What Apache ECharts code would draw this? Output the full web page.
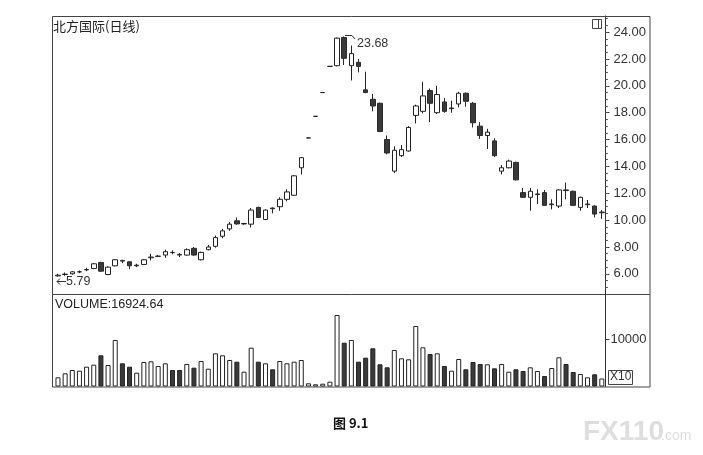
<!DOCTYPE html>
<html>
<head>
<meta charset="utf-8">
<script src="https://cdn.jsdelivr.net/npm/echarts@6/dist/echarts.min.js"></script>
<style>
html,body{margin:0;padding:0;background:#fff;}
#c{width:703px;height:455px;}
</style>
</head>
<body>
<div id="c"></div>
<script>
// ---- data ----
const opens  = [5.85,5.95,6.00,6.15,6.30,6.40,6.85,5.95,6.60,7.00,6.90,6.60,6.70,7.20,7.30,7.40,7.60,7.45,7.40,7.90,7.05,7.80,8.05,8.80,9.35,9.95,9.72,9.70,10.95,10.05,10.90,11.00,11.55,11.85,13.90,16.12,17.73,19.50,21.45,21.50,23.60,21.50,21.75,19.70,19.00,18.70,16.00,13.65,14.80,15.15,17.80,18.10,19.65,18.00,18.80,18.30,18.65,19.45,18.70,17.00,16.30,15.90,13.65,13.90,14.30,12.05,11.70,11.90,12.05,11.15,11.05,12.25,12.15,10.95,11.15,11.05,10.55];
const closes = [5.90,5.98,6.15,6.15,6.32,6.75,6.20,6.50,7.05,6.95,6.60,6.65,7.05,7.25,7.32,7.65,7.58,7.40,7.80,7.40,7.60,8.00,8.70,9.20,9.70,9.72,9.75,10.75,10.20,10.75,10.85,11.55,12.10,13.30,14.65,16.12,17.73,19.50,21.45,23.55,22.05,22.40,21.45,19.50,18.50,16.60,15.00,15.20,15.25,16.90,18.50,19.25,18.70,19.35,18.10,18.35,19.45,18.85,17.25,16.30,16.55,14.80,13.90,14.40,13.00,11.70,12.15,11.95,11.10,11.20,12.25,12.20,11.10,11.70,11.20,10.45,10.60];
const lows   = [5.79,5.85,5.95,6.05,6.20,6.35,6.15,5.90,6.55,6.80,6.35,6.50,6.65,7.00,7.25,7.20,7.45,7.25,7.35,7.35,7.00,7.75,7.95,8.65,9.20,9.65,9.65,9.45,10.15,10.00,10.50,10.70,11.40,11.80,13.40,16.12,17.73,19.50,21.45,21.45,21.55,20.40,21.00,19.45,18.10,16.55,14.90,13.50,14.70,15.10,17.20,17.95,17.30,17.90,18.00,18.00,18.40,18.45,16.90,16.05,15.30,14.70,13.40,13.85,12.95,11.65,10.70,11.20,11.05,10.80,10.90,11.55,11.05,10.70,10.90,10.20,10.10];
const highs  = [6.00,6.10,6.20,6.25,6.45,6.80,6.90,6.55,7.10,7.05,6.95,6.75,7.10,7.50,7.40,7.80,7.75,7.55,7.90,8.00,7.65,8.15,8.85,9.35,9.85,10.20,9.80,10.90,11.00,10.80,10.95,11.70,12.30,13.35,14.70,16.12,17.73,19.50,21.45,23.60,23.68,23.00,22.00,21.05,19.40,18.75,16.30,15.50,15.60,17.00,18.60,20.30,19.80,20.00,19.10,18.90,19.55,19.50,18.80,17.30,16.80,16.10,14.10,14.50,14.35,12.40,12.40,12.30,12.25,11.55,12.30,12.80,12.20,11.75,11.50,11.10,10.75];
const volumes = [1950,2797,3496,3348,4196,4619,6611,4556,9853,4916,4196,2924,5192,5340,4344,4916,3496,3496,4768,3984,5403,3772,7035,6611,5615,5255,3136,8222,5255,4916,3645,5403,4916,5255,5615,678,466,593,1017,15151,9281,9853,5255,6103,8095,4704,4068,7734,5976,5764,12820,8306,6887,7035,4344,3348,5827,3645,5192,4768,4704,3857,4768,3136,3645,3284,4068,3284,2225,3920,6187,4768,3073,2649,1950,2585,1692.46];
const priceTicks = [6,8,10,12,14,16,18,20,22,24];
const volumeTicks = [10000];
const title = '北方国际(日线)';
const volumeLabel = 'VOLUME:16924.64';
const highLabel = '23.68';
const lowLabel = '5.79';
const caption = '图 9.1';

const days = opens.map((_, i) => String(i + 1));

const candleData = opens.map((o, i) => [o, closes[i], lows[i], highs[i]]);
const volData = volumes.map((v, i) => ({
  value: v,
  itemStyle: { color: closes[i] >= opens[i] ? '#ffffff' : '#3a3a3a', borderColor: '#222', borderWidth: 1 }
}));

const FONT = '"Liberation Sans", Arial, sans-serif';
const CJK = '"Noto Sans CJK SC", sans-serif';
const GL = 54.4, GW = 551;
const PMIN = 4.5, PMAX = 25.2;

const chart = echarts.init(document.getElementById('c'), null, { renderer: 'canvas' });
chart.setOption({
  backgroundColor: '#fff',
  animation: false,
  grid: [
    { left: GL, width: GW, top: 16, height: 278 },
    { left: GL, width: GW, top: 294, height: 92.5 }
  ],
  xAxis: [
    { type: 'category', data: days, gridIndex: 0, boundaryGap: true, show: false },
    { type: 'category', data: days, gridIndex: 1, boundaryGap: true, show: false }
  ],
  yAxis: [
    { type: 'value', gridIndex: 0, position: 'right', min: PMIN, max: PMAX,
      splitLine: { show: false },
      axisLine: { show: true, lineStyle: { color: '#333', width: 1 } },
      axisTick: { show: true, length: 4, customValues: priceTicks, lineStyle: { color: '#333' } },
      axisLabel: { show: true, customValues: priceTicks, margin: 8, color: '#333', fontSize: 13, fontFamily: FONT,
        formatter: v => Number(v).toFixed(2) } },
    { type: 'value', gridIndex: 0, position: 'right', offset: 0, min: PMIN, max: PMAX, interval: 0.5,
      splitLine: { show: false }, axisLine: { show: false },
      axisTick: { show: true, length: 2.5, lineStyle: { color: '#555' } },
      axisLabel: { show: false } },
    { type: 'value', gridIndex: 1, position: 'right', min: 0, max: 19600,
      splitLine: { show: false },
      axisLine: { show: true, lineStyle: { color: '#333', width: 1 } },
      axisTick: { show: true, length: 4, customValues: volumeTicks, lineStyle: { color: '#333' } },
      axisLabel: { show: true, customValues: volumeTicks, margin: 5, color: '#333', fontSize: 13, fontFamily: FONT,
        formatter: v => String(v) } }
  ],
  series: [
    { type: 'candlestick', xAxisIndex: 0, yAxisIndex: 0, data: candleData, barWidth: 5,
      itemStyle: { color: '#ffffff', color0: '#3a3a3a', borderColor: '#222', borderColor0: '#2a2a2a', borderWidth: 1 } },
    { type: 'bar', xAxisIndex: 1, yAxisIndex: 2, data: volData, barWidth: 5 }
  ],
  graphic: [
    { type: 'rect', shape: { x: 52.5, y: 16.5, width: 597.5, height: 370.5 }, style: { fill: 'none', stroke: '#444', lineWidth: 1 }, z: 10 },
    { type: 'line', shape: { x1: 52.5, y1: 294.5, x2: 650, y2: 294.5 }, style: { stroke: '#444', lineWidth: 1 }, z: 10 },
    { type: 'text', left: 53, top: 20, style: { text: title, font: '13px ' + CJK, fill: '#222' }, z: 11 },
    { type: 'text', left: 55, top: 298, style: { text: volumeLabel, font: '12.5px ' + FONT, fill: '#222' }, z: 11 },
    { type: 'rect', shape: { x: 592.5, y: 19.5, width: 9, height: 9 }, style: { fill: '#fff', stroke: '#444', lineWidth: 1 }, z: 11 },
    { type: 'line', shape: { x1: 598.5, y1: 19.5, x2: 598.5, y2: 28.5 }, style: { stroke: '#444', lineWidth: 1 }, z: 11 },
    { type: 'polyline', shape: { points: [[345, 35.5], [352, 35.5], [355, 39]] }, style: { stroke: '#333', lineWidth: 1, fill: 'none' }, z: 11 },
    { type: 'text', left: 357, top: 37, style: { text: highLabel, font: '12.5px ' + FONT, fill: '#333' }, z: 11 },
    { type: 'polyline', shape: { points: [[66, 281.5], [57, 281.5]] }, style: { stroke: '#333', lineWidth: 1, fill: 'none' }, z: 11 },
    { type: 'polyline', shape: { points: [[60, 278.5], [57, 281.5], [60, 284.5]] }, style: { stroke: '#333', lineWidth: 1, fill: 'none' }, z: 11 },
    { type: 'text', left: 66, top: 275, style: { text: lowLabel, font: '12.5px ' + FONT, fill: '#333' }, z: 11 },
    { type: 'rect', shape: { x: 608.5, y: 370.5, width: 24, height: 14 }, style: { fill: '#fff', stroke: '#444', lineWidth: 1 }, z: 11 },
    { type: 'text', left: 610, top: 371, style: { text: 'X10', font: '12px ' + FONT, fill: '#333' }, z: 12 },
    { type: 'text', left: 333, top: 417, style: { text: caption, font: 'bold 13px ' + CJK, fill: '#111' }, z: 11 },
    { type: 'text', left: 583, top: 418, style: { text: 'FX110', font: 'bold 28px ' + FONT, fill: '#dedede' }, z: 11 },
    { type: 'text', left: 661, top: 429, style: { text: '.com', font: '14px ' + FONT, fill: '#dedede' }, z: 11 }
  ]
});
</script>
</body>
</html>
